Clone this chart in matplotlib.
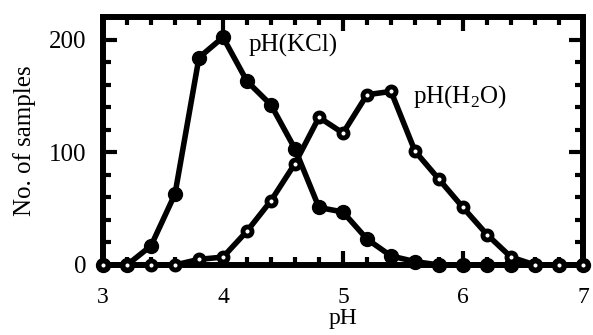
import matplotlib
matplotlib.use("Agg")
import matplotlib.pyplot as plt
from matplotlib.ticker import MultipleLocator

plt.rcParams['font.family'] = ['Liberation Serif', 'DejaVu Serif']
plt.rcParams['mathtext.fontset'] = 'custom'
plt.rcParams['mathtext.rm'] = 'Liberation Serif'

ph = [3.0, 3.2, 3.4, 3.6, 3.8, 4.0, 4.2, 4.4, 4.6, 4.8, 5.0, 5.2, 5.4, 5.6,
      5.8, 6.0, 6.2, 6.4, 6.6, 6.8, 7.0]
n_kcl = [0, 0, 17, 63, 184, 202, 163, 142, 103, 51, 47, 23, 8, 3,
         0, 0, 0, 0, 0, 0, 0]
n_h2o = [0, 0, 0, 0, 5, 7, 30, 57, 90, 131, 117, 151, 154, 101,
         76, 51, 27, 7, 0, 0, 0]

fig = plt.figure(figsize=(5.93, 3.35), dpi=100)
ax = fig.add_axes([0.1737, 0.209, 0.8094, 0.7403])

ax.plot(ph, n_kcl, color='black', lw=4, marker='o', ms=10,
        mfc='black', mec='black', clip_on=False, zorder=3)
ax.plot(ph, n_h2o, color='black', lw=4, marker='o', ms=6.5,
        mfc='white', mec='black', mew=3.5, clip_on=False, zorder=4)

ax.text(4.21, 195, 'pH(KCl)', fontsize=18, va='center', ha='left')
ax.text(5.58, 149, 'pH(H$_2$O)', fontsize=18, va='center', ha='left')

ax.set_xlim(3, 7)
ax.set_ylim(0, 220)
ax.xaxis.set_major_locator(MultipleLocator(1))
ax.xaxis.set_minor_locator(MultipleLocator(0.2))
ax.yaxis.set_major_locator(MultipleLocator(100))
ax.yaxis.set_minor_locator(MultipleLocator(20))
ax.tick_params(which='both', direction='in', top=True, right=True,
               width=3, labelsize=18)
ax.tick_params(which='major', length=10)
ax.tick_params(which='minor', length=6)
ax.tick_params(axis='x', pad=16, labelsize=17)
ax.tick_params(axis='y', pad=12)
for s in ax.spines.values():
    s.set_linewidth(4.3)

ax.set_xlabel('pH', fontsize=17, labelpad=0)
ax.set_ylabel('No. of samples', fontsize=18, labelpad=9)

fig.savefig('out.png', dpi=100)
